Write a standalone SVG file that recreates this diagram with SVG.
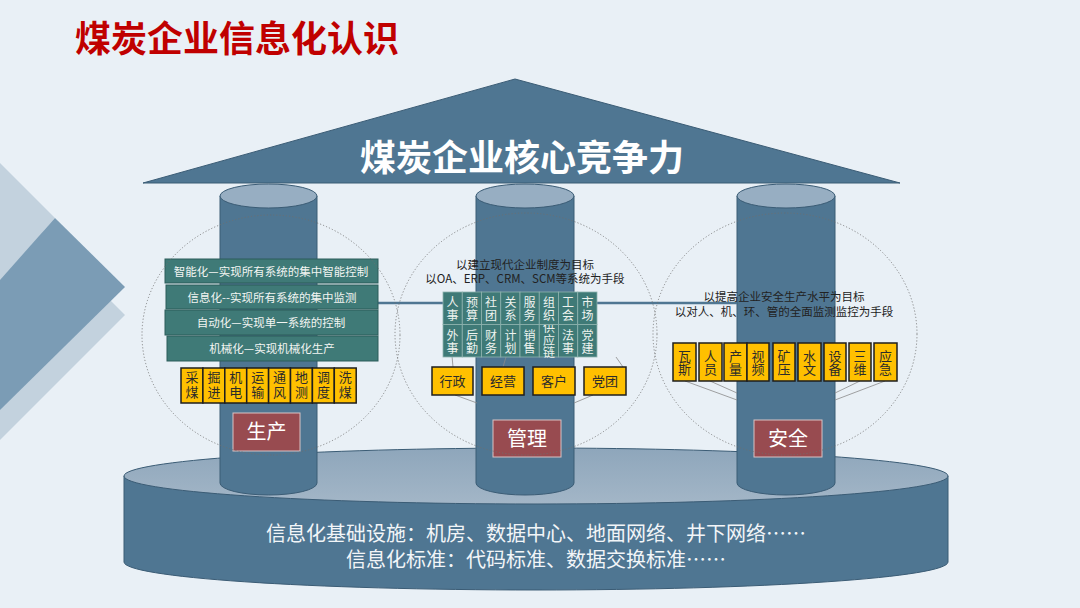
<svg xmlns="http://www.w3.org/2000/svg" width="1080" height="608" viewBox="0 0 1080 608">
<defs>
<style>
text{font-family:"Noto Sans CJK SC","Noto Sans",sans-serif;}
.bar{fill:#3f7a77;stroke:#2c5c5a;stroke-width:1;}
.bartxt{fill:#f2f5f2;font-size:11.5px;text-anchor:middle;}
.cell{fill:#3f7a77;stroke:#8fb3ae;stroke-width:0.8;}
.celltxt{fill:#eef3ef;font-size:12px;text-anchor:middle;writing-mode:vertical-rl;letter-spacing:0.5px;}
.ybox{fill:#ffc000;stroke:#1e1e1e;stroke-width:1.5;}
.ytxt{fill:#2b2b2b;font-size:13px;text-anchor:middle;}
.vtxt{fill:#2b2b2b;font-size:13px;text-anchor:middle;writing-mode:vertical-rl;}
.pillar{fill:#4f7692;stroke:#3b5c75;stroke-width:1;}
.ptop{fill:#97aec2;stroke:#3b5c75;stroke-width:1;}
.lbl{fill:#984b50;stroke:#d9c3c4;stroke-width:1;}
.lbltxt{fill:#ffffff;font-size:20px;text-anchor:middle;}
.dots{fill:none;stroke:#6f6f6f;stroke-width:0.8;stroke-dasharray:1.2 2;}
.thin{fill:none;stroke:#8a8a8a;stroke-width:0.8;}
.goal{fill:#222;font-size:11.5px;text-anchor:middle;}
</style>
<linearGradient id="discTop" x1="0" y1="0" x2="0" y2="1">
<stop offset="0" stop-color="#8ea6bb"/>
<stop offset="1" stop-color="#a3b6c7"/>
</linearGradient>
</defs>
<rect width="1080" height="608" fill="#e9f0f6"/>
<g id="deco">
<polygon points="0,163 55,218 0,280" fill="#c3d2de"/>
<polygon points="0,190 125,315 0,440" fill="#c3d2de"/>
<polygon points="0,280 55,218 125,287 0,410" fill="#7b9cb5"/>
</g>
<text id="title" x="75" y="52" font-size="36" font-weight="bold" fill="#c00000">煤炭企业信息化认识</text>
<g id="base">
<path d="M124,476 L124,562 A412,28 0 0 0 948,562 L948,476 Z" fill="#4f7692" stroke="#3b5c75"/>
<ellipse cx="536" cy="476" rx="412" ry="28" fill="url(#discTop)" stroke="#3b5c75"/>
</g>
<g id="pillar-left">
<path class="pillar" d="M220,196 L220,483 A48.5,12 0 0 0 317,483 L317,196 Z"/>
<ellipse class="ptop" cx="268.5" cy="196" rx="48.5" ry="12"/>
</g>
<g id="pillar-mid">
<path class="pillar" d="M476,196 L476,483 A49,12 0 0 0 574,483 L574,196 Z"/>
<ellipse class="ptop" cx="525" cy="196" rx="49" ry="12"/>
</g>
<g id="pillar-right">
<path class="pillar" d="M737,196 L737,483 A49,12 0 0 0 835,483 L835,196 Z"/>
<ellipse class="ptop" cx="786" cy="196" rx="49" ry="12"/>
</g>
<g id="roof">
<polygon points="143,183 515,79 900,183" fill="#4f7692" stroke="#3b5c75" stroke-width="1"/>
<text x="522" y="171" font-size="36" font-weight="bold" fill="#ffffff" text-anchor="middle">煤炭企业核心竞争力</text>
</g>
<g id="base-text">
<text fill="#f2f5f8" font-size="20" text-anchor="middle"><tspan x="536" y="540.5">信息化基础设施：机房、数据中心、地面网络、井下网络……</tspan><tspan x="536" y="567">信息化标准：代码标准、数据交换标准……</tspan></text>
</g>
<g id="connectors">
<line x1="378" y1="303" x2="737" y2="303" stroke="#4f7692" stroke-width="2.5"/>
<line class="thin" x1="452" y1="356" x2="453" y2="367"/>
<line class="thin" x1="506" y1="357" x2="503" y2="367"/>
<line class="thin" x1="616" y1="357" x2="623" y2="367"/>
<line class="thin" x1="455" y1="395" x2="477" y2="403"/>
<line class="thin" x1="593" y1="395" x2="574" y2="403"/>
<line class="thin" x1="685" y1="381" x2="737" y2="400"/>
<line class="thin" x1="710" y1="381" x2="737" y2="393"/>
<line class="thin" x1="860" y1="381" x2="835" y2="393"/>
<line class="thin" x1="885" y1="381" x2="835" y2="400"/>
</g>
<g id="production">
<rect class="bar" x="165" y="259" width="213" height="24"/>
<text class="bartxt" x="271" y="275.5">智能化—实现所有系统的集中智能控制</text>
<rect class="bar" x="166" y="285" width="212" height="24"/>
<text class="bartxt" x="272" y="301.5">信息化--实现所有系统的集中监测</text>
<rect class="bar" x="165" y="310" width="213" height="25"/>
<text class="bartxt" x="271" y="327">自动化—实现单一系统的控制</text>
<rect class="bar" x="167" y="336" width="211" height="25"/>
<text class="bartxt" x="272" y="353">机械化—实现机械化生产</text>
<g id="prod-items">
<rect class="ybox" x="181" y="368" width="21.9" height="35"/><text class="vtxt" x="192" y="385.5" letter-spacing="2">采煤</text>
<rect class="ybox" x="202.9" y="368" width="21.9" height="35"/><text class="vtxt" x="213.9" y="385.5" letter-spacing="2">掘进</text>
<rect class="ybox" x="224.8" y="368" width="21.9" height="35"/><text class="vtxt" x="235.8" y="385.5" letter-spacing="2">机电</text>
<rect class="ybox" x="246.7" y="368" width="21.9" height="35"/><text class="vtxt" x="257.7" y="385.5" letter-spacing="2">运输</text>
<rect class="ybox" x="268.6" y="368" width="21.9" height="35"/><text class="vtxt" x="279.6" y="385.5" letter-spacing="2">通风</text>
<rect class="ybox" x="290.5" y="368" width="21.9" height="35"/><text class="vtxt" x="301.5" y="385.5" letter-spacing="2">地测</text>
<rect class="ybox" x="312.4" y="368" width="21.9" height="35"/><text class="vtxt" x="323.4" y="385.5" letter-spacing="2">调度</text>
<rect class="ybox" x="334.3" y="368" width="21.9" height="35"/><text class="vtxt" x="345.3" y="385.5" letter-spacing="2">洗煤</text>
</g>
<rect class="lbl" x="233" y="413" width="67" height="38"/>
<text class="lbltxt" x="266.5" y="439">生产</text>
</g>
<g id="management">
<text class="goal"><tspan x="525" y="269">以建立现代企业制度为目标</tspan><tspan x="525" y="283">以OA、ERP、CRM、SCM等系统为手段</tspan></text>
<g id="mgmt-grid">
<rect class="cell" x="443" y="324.5" width="19.25" height="32.5"/>
<rect class="cell" x="462.25" y="324.5" width="19.25" height="32.5"/>
<rect class="cell" x="481.5" y="324.5" width="19.25" height="32.5"/>
<rect class="cell" x="500.75" y="324.5" width="19.25" height="32.5"/>
<rect class="cell" x="520" y="324.5" width="19.25" height="32.5"/>
<rect class="cell" x="539.25" y="324.5" width="19.25" height="32.5"/>
<rect class="cell" x="558.5" y="324.5" width="19.25" height="32.5"/>
<rect class="cell" x="577.75" y="324.5" width="19.25" height="32.5"/>
<text class="celltxt" x="452.6" y="342">外事</text>
<text class="celltxt" x="471.9" y="342">后勤</text>
<text class="celltxt" x="491.1" y="342">财务</text>
<text class="celltxt" x="510.4" y="342">计划</text>
<text class="celltxt" x="529.6" y="342">销售</text>
<text class="celltxt" x="548.9" y="340.5" letter-spacing="1">供应链</text>
<text class="celltxt" x="568.1" y="342">法事</text>
<text class="celltxt" x="587.4" y="342">党建</text>
<rect class="cell" x="443" y="292" width="19.25" height="32.5"/>
<rect class="cell" x="462.25" y="292" width="19.25" height="32.5"/>
<rect class="cell" x="481.5" y="292" width="19.25" height="32.5"/>
<rect class="cell" x="500.75" y="292" width="19.25" height="32.5"/>
<rect class="cell" x="520" y="292" width="19.25" height="32.5"/>
<rect class="cell" x="539.25" y="292" width="19.25" height="32.5"/>
<rect class="cell" x="558.5" y="292" width="19.25" height="32.5"/>
<rect class="cell" x="577.75" y="292" width="19.25" height="32.5"/>
<text class="celltxt" x="452.6" y="309">人事</text>
<text class="celltxt" x="471.9" y="309">预算</text>
<text class="celltxt" x="491.1" y="309">社团</text>
<text class="celltxt" x="510.4" y="309">关系</text>
<text class="celltxt" x="529.6" y="309">服务</text>
<text class="celltxt" x="548.9" y="309">组织</text>
<text class="celltxt" x="568.1" y="309">工会</text>
<text class="celltxt" x="587.4" y="309">市场</text>
</g>
<g id="mgmt-items">
<rect class="ybox" x="432" y="367" width="41" height="28"/><text class="ytxt" x="452.5" y="386">行政</text>
<rect class="ybox" x="482" y="367" width="42" height="28"/><text class="ytxt" x="503" y="386">经营</text>
<rect class="ybox" x="533" y="367" width="42" height="28"/><text class="ytxt" x="554" y="386">客户</text>
<rect class="ybox" x="584" y="367" width="42" height="28"/><text class="ytxt" x="605" y="386">党团</text>
</g>
<rect class="lbl" x="493" y="420" width="68" height="37"/>
<text class="lbltxt" x="527" y="446">管理</text>
</g>
<g id="safety">
<text class="goal"><tspan x="784" y="301">以提高企业安全生产水平为目标</tspan><tspan x="784" y="315.5">以对人、机、环、管的全面监测监控为手段</tspan></text>
<g id="safety-items">
<rect class="ybox" x="673" y="343" width="23" height="38"/><text class="vtxt" x="684.5" y="363">瓦斯</text>
<rect class="ybox" x="699" y="343" width="23" height="38"/><text class="vtxt" x="710.5" y="363">人员</text>
<rect class="ybox" x="724" y="343" width="23" height="38"/><text class="vtxt" x="735.5" y="363">产量</text>
<rect class="ybox" x="747" y="343" width="22" height="38"/><text class="vtxt" x="758" y="363">视频</text>
<rect class="ybox" x="773" y="343" width="22" height="38"/><text class="vtxt" x="784" y="363">矿压</text>
<rect class="ybox" x="798" y="343" width="23" height="38"/><text class="vtxt" x="809.5" y="363">水文</text>
<rect class="ybox" x="824" y="343" width="22" height="38"/><text class="vtxt" x="835" y="363">设备</text>
<rect class="ybox" x="849" y="343" width="22" height="38"/><text class="vtxt" x="860" y="363">三维</text>
<rect class="ybox" x="874" y="343" width="23" height="38"/><text class="vtxt" x="885.5" y="363">应急</text>
</g>
<rect class="lbl" x="754" y="420" width="68" height="37"/>
<text class="lbltxt" x="788" y="446">安全</text>
</g>
<g id="scope-circles">
<ellipse class="dots" cx="271" cy="335" rx="129" ry="120"/>
<ellipse class="dots" cx="526" cy="334" rx="131" ry="121"/>
<ellipse class="dots" cx="785" cy="334" rx="132" ry="121"/>
</g>
</svg>
